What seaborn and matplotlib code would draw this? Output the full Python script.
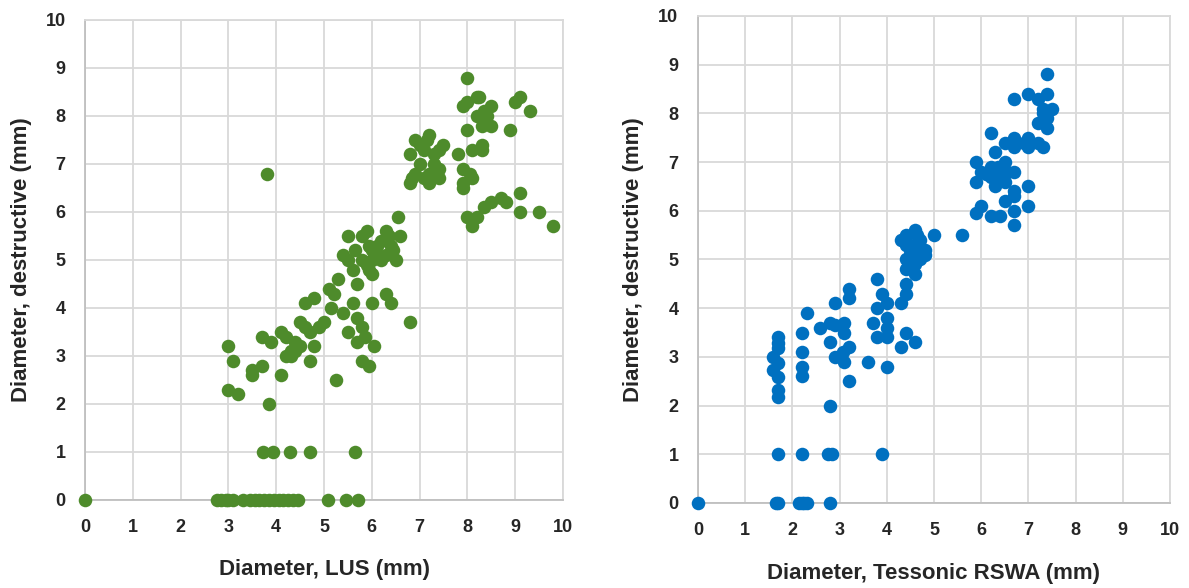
import numpy as np
import pandas as pd
import matplotlib
matplotlib.use("Agg")
import matplotlib.pyplot as plt
import seaborn as sns

# LUS panel (left)
lus_x = [0.0,
         2.76, 2.85, 2.95, 3.0, 3.1, 3.3, 3.45, 3.55, 3.65, 3.75, 3.85, 3.95, 4.05, 4.15, 4.25, 4.35, 4.46,
         5.08, 5.46, 5.71,
         3.72, 3.94, 4.29, 4.71, 5.65,
         3.0, 3.1, 3.0, 3.2, 3.85, 3.5, 3.5, 3.7, 4.1, 3.7, 3.9, 4.1, 4.2, 4.3,
         4.3, 4.2, 4.4, 4.5, 4.4, 4.7, 4.8, 4.6, 4.8, 4.5, 4.6, 4.7, 4.9, 5.0,
         5.25, 5.8, 5.95, 6.05, 5.7, 5.85, 5.5, 5.7, 5.8, 6.8,
         5.4, 5.15, 5.6, 6.0, 6.4, 6.3, 5.3, 5.1, 5.2,
         5.7, 6.0, 5.95, 5.4, 5.5, 5.6, 5.9, 6.0, 6.2, 6.3, 5.8, 5.95, 6.0, 6.1,
         6.2, 6.4, 6.5, 6.6, 6.1, 5.65, 6.45, 5.5, 5.8, 5.9, 6.3, 6.35, 6.55,
         3.8,
         6.9, 7.0, 7.15, 7.2, 7.1, 7.4, 7.5, 6.8, 7.0, 7.3, 7.4, 6.9, 7.1, 7.2,
         7.4, 6.8, 6.85, 7.2, 7.3,
         8.0, 7.9, 8.0, 8.2, 8.25, 8.5, 8.4, 9.0, 9.1, 9.3, 8.3, 8.2, 8.35, 8.5,
         8.0, 8.9, 8.1, 8.3, 8.3, 7.8, 7.9, 8.05, 8.1, 7.9, 7.9,
         8.0, 8.1, 8.2, 8.35, 8.5, 8.7, 8.8, 9.1, 9.1, 9.5, 9.8]
lus_y = [0.0,
         0, 0, 0, 0, 0, 0, 0, 0, 0, 0, 0, 0, 0, 0, 0, 0, 0,
         0, 0, 0,
         1, 1, 1, 1, 1,
         3.2, 2.9, 2.3, 2.2, 2.0, 2.7, 2.6, 2.8, 2.6, 3.4, 3.3, 3.5, 3.4, 3.0,
         3.1, 3.0, 3.1, 3.2, 3.3, 2.9, 3.2, 4.1, 4.2, 3.7, 3.6, 3.5, 3.6, 3.7,
         2.5, 2.9, 2.8, 3.2, 3.3, 3.4, 3.5, 3.8, 3.6, 3.7,
         3.9, 4.0, 4.1, 4.1, 4.1, 4.3, 4.6, 4.4, 4.3,
         4.5, 4.7, 4.8, 5.1, 5.0, 4.8, 4.9, 5.0, 5.0, 5.1, 5.0, 5.3, 5.2, 5.1,
         5.4, 5.3, 5.0, 5.5, 5.3, 5.2, 5.2, 5.5, 5.5, 5.6, 5.6, 5.5, 5.9,
         6.8,
         7.5, 7.4, 7.5, 7.6, 7.3, 7.3, 7.4, 7.2, 7.0, 7.0, 6.9, 6.8, 6.7, 6.6,
         6.7, 6.6, 6.7, 6.8, 7.2,
         8.8, 8.2, 8.3, 8.4, 8.4, 8.2, 8.0, 8.3, 8.4, 8.1, 7.8, 8.0, 8.1, 7.8,
         7.7, 7.7, 7.3, 7.4, 7.3, 7.2, 6.9, 6.8, 6.7, 6.5, 6.6,
         5.9, 5.7, 5.9, 6.1, 6.2, 6.3, 6.2, 6.4, 6.0, 6.0, 5.7]

# Tessonic RSWA panel (right)
rswa_x = [0.0, 1.65, 1.7, 2.15, 2.2, 2.25, 2.3, 2.8,
          1.7, 2.2, 2.75, 2.85, 3.9,
          1.7, 1.7, 1.7, 1.6, 1.7, 1.6, 1.7, 1.7, 1.7,
          2.2, 2.2, 2.2, 2.2, 2.3, 2.8,
          2.58, 2.8, 2.9, 3.1, 3.1, 2.8, 2.9, 3.07, 3.2, 3.1, 3.2, 2.9, 3.2, 3.2,
          3.6, 3.8, 3.7, 3.8, 3.9, 3.8, 4.0, 4.0, 4.0, 4.0, 4.0,
          4.3, 4.4, 4.4, 4.3, 4.4, 4.6,
          4.3, 4.4, 4.6, 4.4, 4.4, 4.4, 4.6, 4.8, 4.8, 5.0, 5.6, 4.6, 4.6, 4.5,
          4.5, 4.55, 4.7, 4.5, 4.6, 4.7, 4.5, 4.65,
          7.4, 6.7, 7.0, 7.4, 7.2, 7.5, 7.3, 7.3, 7.2, 7.4, 7.4,
          6.2, 6.5, 6.7, 6.7, 7.0, 7.0, 7.2, 7.3, 6.9, 6.3,
          5.9, 6.2, 6.5, 6.7, 5.9, 6.0, 6.3, 6.5, 6.4, 6.2, 6.1, 6.35, 6.55,
          6.7, 6.7, 7.0, 6.5, 6.7, 7.0, 6.7, 5.9, 6.0, 6.2, 6.4]
rswa_y = [0.0, 0, 0, 0, 0, 0, 0, 0,
          1, 1, 1, 1, 1,
          3.41, 3.29, 3.18, 2.99, 2.87, 2.73, 2.59, 2.32, 2.18,
          3.5, 3.1, 2.8, 2.6, 3.9, 2.0,
          3.6, 3.7, 3.65, 3.7, 3.5, 3.3, 3.0, 3.1, 3.2, 2.9, 2.5, 4.1, 4.4, 4.2,
          2.9, 4.6, 3.7, 3.4, 4.3, 4.0, 4.1, 3.8, 3.6, 3.4, 2.8,
          4.1, 4.5, 4.3, 3.2, 3.5, 3.3,
          5.4, 5.5, 5.6, 5.3, 5.0, 4.8, 4.7, 5.2, 5.1, 5.5, 5.5, 5.2, 5.1, 4.9,
          5.2, 5.0, 5.4, 5.1, 4.9, 5.0, 5.3, 5.5,
          8.8, 8.3, 8.4, 8.4, 8.3, 8.1, 8.1, 8.0, 7.8, 7.7, 7.9,
          7.6, 7.4, 7.5, 7.3, 7.5, 7.3, 7.4, 7.3, 7.4, 7.2,
          7.0, 6.9, 7.0, 6.8, 6.6, 6.8, 6.5, 6.6, 6.7, 6.7, 6.75, 6.9, 6.8,
          6.4, 6.3, 6.5, 6.2, 6.0, 6.1, 5.7, 5.95, 6.1, 5.9, 5.9]

ticks = list(range(0, 11))

sns.set_theme(style="white")
plt.rcParams['font.family'] = ['Liberation Sans Narrow', 'Liberation Sans', 'DejaVu Sans']
plt.rcParams['font.weight'] = 'bold'

fig = plt.figure(figsize=(11.89, 5.88), dpi=100)
ax1 = fig.add_axes([0.0715, 0.1497, 0.402, 0.8163])
ax2 = fig.add_axes([0.587, 0.1446, 0.397, 0.8282])

panels = [
    (ax1, lus_x, lus_y, "#4e8b2b", "Diameter, LUS (mm)", 16),
    (ax2, rswa_x, rswa_y, "#0070c0", "Diameter, Tessonic RSWA (mm)", 17),
]
for ax, xs, ys, col, xlabel, lpad in panels:
    df = pd.DataFrame({"x": xs, "y": ys})
    sns.scatterplot(data=df, x="x", y="y", ax=ax, color=col, s=95,
                    edgecolor=col, linewidth=0, zorder=3, clip_on=False)
    ax.set_xlim(0, 10)
    ax.set_ylim(0, 10)
    ax.set_xticks(ticks)
    ax.set_yticks(ticks)
    ax.grid(True, color="#d9d9d9", linewidth=1.3)
    for sp in ax.spines.values():
        sp.set_color("#d9d9d9")
        sp.set_linewidth(1.3)
    ax.spines["left"].set_color("#bfbfbf")
    ax.spines["bottom"].set_color("#bfbfbf")
    ax.tick_params(length=0, labelsize=13, pad=14)
    for lab in ax.get_xticklabels() + ax.get_yticklabels():
        lab.set_fontweight("bold")
    ax.set_xlabel(xlabel, fontsize=16, fontweight="bold", labelpad=lpad)
    ax.set_ylabel("Diameter, destructive (mm)", fontsize=16, fontweight="bold", labelpad=10)
    ax.set_axisbelow(True)

fig.savefig("out.png", dpi=100)
